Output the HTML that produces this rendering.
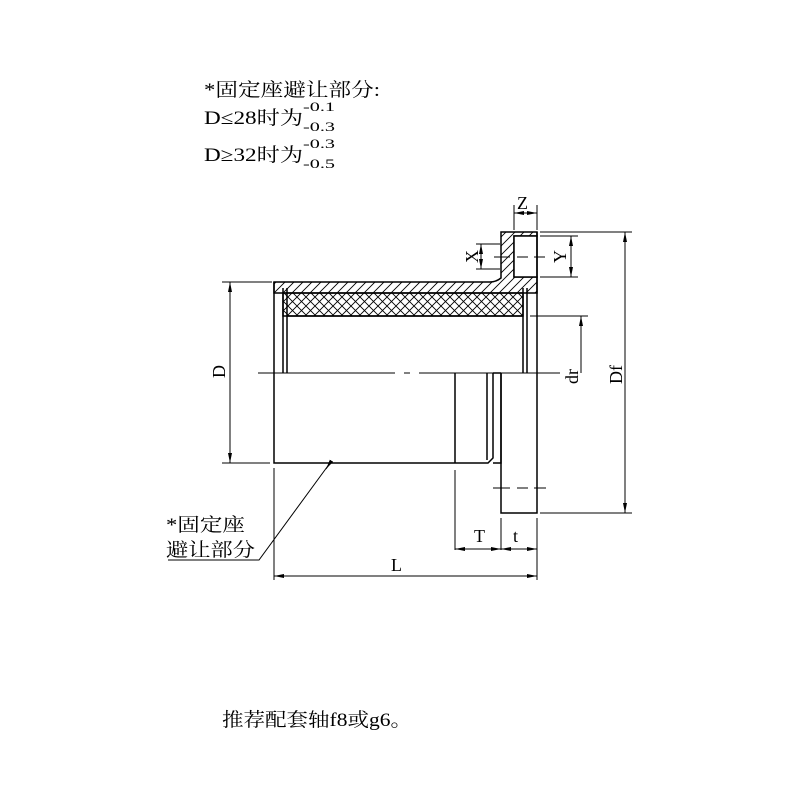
<!DOCTYPE html>
<html><head><meta charset="utf-8"><style>
body{margin:0;background:#fff}
svg{display:block}
text{font-family:"Liberation Serif","Noto Serif CJK SC",serif;fill:#000}
</style></head><body>
<svg width="800" height="800" viewBox="0 0 800 800" xmlns="http://www.w3.org/2000/svg">
<defs>
<pattern id="h" width="9" height="9" patternUnits="userSpaceOnUse"><path d="M-2,11 L11,-2 M-2,2 L2,-2 M7,11 L11,7" stroke="#000" stroke-width="0.9"/></pattern>
<pattern id="x" width="9" height="9" patternUnits="userSpaceOnUse"><path d="M0,0 L9,9 M9,0 L0,9" stroke="#000" stroke-width="0.9"/></pattern>
<marker id="a" markerWidth="10" markerHeight="6" refX="10" refY="3" orient="auto-start-reverse" markerUnits="userSpaceOnUse"><path d="M0,1 L10,3 L0,5z" fill="#000"/></marker>
</defs>
<g font-size="19" font-family="Liberation Serif,Noto Serif CJK SC,serif">
<text x="204" y="96" textLength="176" lengthAdjust="spacingAndGlyphs">*固定座避让部分:</text>
<text x="204" y="124" textLength="99" lengthAdjust="spacingAndGlyphs">D≤28时为</text>
<text x="303" y="111" font-size="13" textLength="32" lengthAdjust="spacingAndGlyphs" font-family="Liberation Mono,monospace">-0.1</text>
<text x="303" y="131" font-size="13" textLength="32" lengthAdjust="spacingAndGlyphs" font-family="Liberation Mono,monospace">-0.3</text>
<text x="204" y="161" textLength="99" lengthAdjust="spacingAndGlyphs">D≥32时为</text>
<text x="303" y="148" font-size="13" textLength="32" lengthAdjust="spacingAndGlyphs" font-family="Liberation Mono,monospace">-0.3</text>
<text x="303" y="168" font-size="13" textLength="32" lengthAdjust="spacingAndGlyphs" font-family="Liberation Mono,monospace">-0.5</text>
<text x="166" y="531" textLength="79" lengthAdjust="spacingAndGlyphs">*固定座</text>
<text x="166" y="556" textLength="89" lengthAdjust="spacingAndGlyphs">避让部分</text>
<text x="222" y="726" textLength="190" lengthAdjust="spacingAndGlyphs">推荐配套轴f8或g6。</text>
</g>
<g fill="none" stroke="#000" stroke-width="1.5">
<path d="M274,282 L490,282 Q496,282 501,278 L501,232 L537,232 L537,236 L514,236 L514,277 L537,277 L537,293 L274,293 Z" fill="url(#h)"/>
<rect x="514" y="236" width="23" height="41" fill="#fff"/>
<rect x="283" y="293" width="240" height="23" fill="url(#x)"/>
<path d="M274,282 L274,463 L488,463 L493,458 L493,373"/>
<path d="M537,232 L537,513 L501,513 L501,373"/>
<path d="M283,288 L283,373 M287,288 L287,373 M523,288 L523,373 M527,288 L527,373"/>
<path d="M455,373 L455,463 M487,373 L487,460 M493,373 L501,373 M501,373 L501,463 L493,463"/>
<path d="M287,316 L523,316"/>
</g>
<g fill="none" stroke="#000" stroke-width="1">
<path d="M258,373 L395,373 M404,373 L410,373 M419,373 L560,373"/>
<path d="M493,488 L510,488 M517,488 L528,488 M534,488 L546,488"/>
<path d="M494,257 L510,257 M517,257 L528,257 M534,257 L545,257"/>
<path d="M222,282 L272,282 M222,463 L270,463"/>
<path d="M540,232 L632,232 M540,513 L632,513"/>
<path d="M540,236 L578,236 M540,277 L578,277"/>
<path d="M476,244 L500,244 M476,269 L500,269"/>
<path d="M514,230 L514,205 M537,230 L537,205"/>
<path d="M530,316 L588,316"/>
<path d="M455,470 L455,550 M501,518 L501,550 M537,518 L537,580 M274,468 L274,580"/>
<path d="M168,560 L259,560 L330,463"/>
<line x1="230" y1="282" x2="230" y2="463" marker-start="url(#a)" marker-end="url(#a)"/>
<line x1="625" y1="232" x2="625" y2="513" marker-start="url(#a)" marker-end="url(#a)"/>
<line x1="571" y1="236" x2="571" y2="277" marker-start="url(#a)" marker-end="url(#a)"/>
<line x1="481" y1="244" x2="481" y2="269" marker-start="url(#a)" marker-end="url(#a)"/>
<line x1="514" y1="213" x2="537" y2="213" marker-start="url(#a)" marker-end="url(#a)"/>
<line x1="581" y1="316" x2="581" y2="373" marker-start="url(#a)"/>
<line x1="455" y1="549" x2="501" y2="549" marker-start="url(#a)" marker-end="url(#a)"/>
<line x1="501" y1="549" x2="537" y2="549" marker-start="url(#a)" marker-end="url(#a)"/>
<line x1="274" y1="576" x2="537" y2="576" marker-start="url(#a)" marker-end="url(#a)"/>
<line x1="330" y1="463" x2="326" y2="469" marker-end="url(#a)"/>
</g>
<g font-size="18">
<text x="517" y="209">Z</text>
<text x="391" y="571">L</text>
<text x="474" y="542">T</text>
<text x="513" y="542">t</text>
<text transform="translate(225,378) rotate(-90)">D</text>
<text transform="translate(622,384) rotate(-90)">Df</text>
<text transform="translate(578,384) rotate(-90)">dr</text>
<text transform="translate(478,263) rotate(-90)">X</text>
<text transform="translate(566,263) rotate(-90)">Y</text>
</g>
</svg>
</body></html>
